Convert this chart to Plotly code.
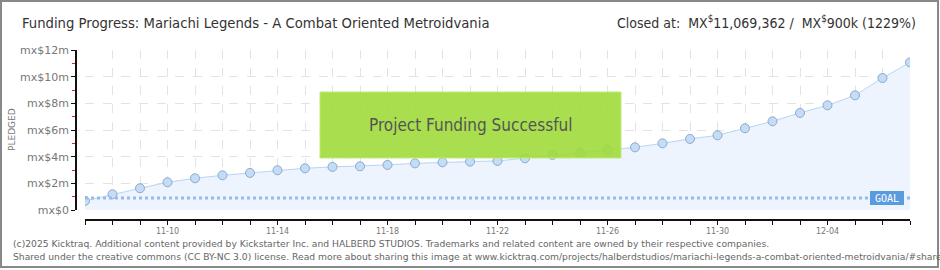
import plotly.graph_objects as go

# ---- data ----
dates = [
    "2025-11-07", "2025-11-08", "2025-11-09", "2025-11-10", "2025-11-11", "2025-11-12",
    "2025-11-13", "2025-11-14", "2025-11-15", "2025-11-16", "2025-11-17", "2025-11-18",
    "2025-11-19", "2025-11-20", "2025-11-21", "2025-11-22", "2025-11-23", "2025-11-24",
    "2025-11-25", "2025-11-26", "2025-11-27", "2025-11-28", "2025-11-29", "2025-11-30",
    "2025-12-01", "2025-12-02", "2025-12-03", "2025-12-04", "2025-12-05", "2025-12-06",
    "2025-12-07",
]
pledged = [
    680000, 1180000, 1630000, 2080000, 2380000, 2600000,
    2780000, 2980000, 3130000, 3230000, 3280000, 3380000,
    3500000, 3580000, 3630000, 3680000, 3880000, 4130000,
    4300000, 4500000, 4700000, 5000000, 5330000, 5600000,
    6130000, 6650000, 7280000, 7850000, 8600000, 9900000,
    11069362,
]
goal = 900000
y_tickvals = [0, 2000000, 4000000, 6000000, 8000000, 10000000, 12000000]
y_ticktext = ["mx$0", "mx$2m", "mx$4m", "mx$6m", "mx$8m", "mx$10m", "mx$12m"]

title_text = "Funding Progress: Mariachi Legends - A Combat Oriented Metroidvania"
closed_text = "Closed at:  MX<sup>$</sup>11,069,362 /  MX<sup>$</sup>900k (1229%)"
banner_text = "Project Funding Successful"
footer1 = ("(c)2025 Kicktraq. Additional content provided by Kickstarter Inc. and HALBERD STUDIOS. "
           "Trademarks and related content are owned by their respective companies.")
footer2 = ("Shared under the creative commons (CC BY-NC 3.0) license. Read more about sharing this image at "
           "www.kicktraq.com/projects/halberdstudios/mariachi-legends-a-combat-oriented-metroidvania/#share")

W, H = 940, 270
def px(x):
    return x / W
def py(y):
    return (H - y) / H

COND = "Liberation Sans Narrow, DejaVu Sans Condensed, Roboto, sans-serif"

fig = go.Figure()
fig.add_trace(go.Scatter(
    x=dates, y=pledged, mode="lines+markers",
    line=dict(color="#b7d5f4", width=1),
    marker=dict(size=9, color="#c3dcf7", line=dict(color="#8ea9c9", width=1)),
    fill="tozeroy", fillcolor="#edf4fd",
    hoverinfo="skip", showlegend=False,
))

fig.update_layout(
    width=W, height=H, autosize=False,
    margin=dict(l=0, r=0, t=0, b=0, pad=0, autoexpand=False),
    paper_bgcolor="white", plot_bgcolor="white",
    showlegend=False,
    xaxis=dict(
        type="date", domain=[px(85), px(910)], anchor="free", position=py(220),
        automargin=False,
        range=[dates[0], dates[-1]],
        tick0="2025-11-10", dtick=4 * 86400000, tickformat="%m-%d",
        showline=True, linecolor="#111", linewidth=1.5,
        ticks="outside", ticklen=4, tickcolor="#111", tickwidth=1,
        showgrid=True, gridcolor="#e3e3e3", griddash="dash", gridwidth=1,
        minor=dict(dtick=86400000, ticks="outside", ticklen=4, tickcolor="#111",
                   showgrid=True, gridcolor="#e3e3e3", griddash="dash"),
        tickfont=dict(family="DejaVu Sans", size=8, color="#777"),
        zeroline=False, fixedrange=True,
    ),
    yaxis=dict(
        domain=[py(210), py(50)], anchor="free", position=px(76),
        automargin=False,
        range=[0, 12000000],
        tickvals=y_tickvals, ticktext=y_ticktext,
        showline=True, linecolor="#111", linewidth=1.5,
        ticks="outside", ticklen=4, tickcolor="#111",
        showgrid=True, gridcolor="#e3e3e3", griddash="dash",
        minor=dict(dtick=1000000, ticks="outside", ticklen=3, tickcolor="#e02020", showgrid=False),
        tickfont=dict(family="DejaVu Sans", size=11, color="#777"),
        zeroline=False, fixedrange=True,
    ),
)

shapes = []
# goal line
shapes.append(dict(type="line", xref="x", yref="y", x0=dates[0], x1=dates[-1], y0=goal, y1=goal,
                   line=dict(color="#95bcea", width=3, dash="dot"), layer="above"))
# banner
shapes.append(dict(type="rect", xref="paper", yref="paper", x0=px(320), x1=px(621), y0=py(158), y1=py(92),
                   fillcolor="rgba(160,218,60,0.9)", line=dict(color="rgba(190,235,120,1)", width=1),
                   layer="above"))
# frame
shapes.append(dict(type="rect", xref="paper", yref="paper", x0=px(1), x1=px(938), y0=py(267), y1=py(1),
                   line=dict(color="#888", width=2), fillcolor="rgba(0,0,0,0)"))
fig.update_layout(shapes=shapes)

ann = []
ann.append(dict(text=title_text, x=px(20), y=py(22), xref="paper", yref="paper", xanchor="left",
                yanchor="middle", showarrow=False, font=dict(family=COND, size=14.7, color="#333")))
ann.append(dict(text=closed_text, x=px(918), y=py(22), xref="paper", yref="paper", xanchor="right",
                yanchor="middle", showarrow=False, font=dict(family=COND, size=14, color="#333")))
ann.append(dict(text="PLEDGED", x=px(12), y=py(130), xref="paper", yref="paper", textangle=-90,
                xanchor="center", yanchor="middle",
                showarrow=False, font=dict(family="DejaVu Sans", size=9, color="#777")))
ann.append(dict(text=banner_text, x=px(471), y=py(125), xref="paper", yref="paper",
                xanchor="center", yanchor="middle",
                showarrow=False, font=dict(family=COND, size=17, color="#555")))
ann.append(dict(text="GOAL", x=px(887), y=goal, xref="paper", yref="y", showarrow=False,
                xanchor="center", yanchor="middle", width=29, height=9,
                bgcolor="#5a9be0", bordercolor="#5a9be0", borderpad=1.5,
                font=dict(family="DejaVu Sans Mono", size=10, color="white")))
ann.append(dict(text=footer1, x=px(11), y=py(243), xref="paper", yref="paper", xanchor="left",
                yanchor="middle", showarrow=False, font=dict(family="DejaVu Sans", size=9.2, color="#666")))
ann.append(dict(text=footer2, x=px(11), y=py(256), xref="paper", yref="paper", xanchor="left",
                yanchor="middle", showarrow=False, font=dict(family="DejaVu Sans", size=9.2, color="#666")))
fig.update_layout(annotations=ann)

fig.write_html("out.html")
